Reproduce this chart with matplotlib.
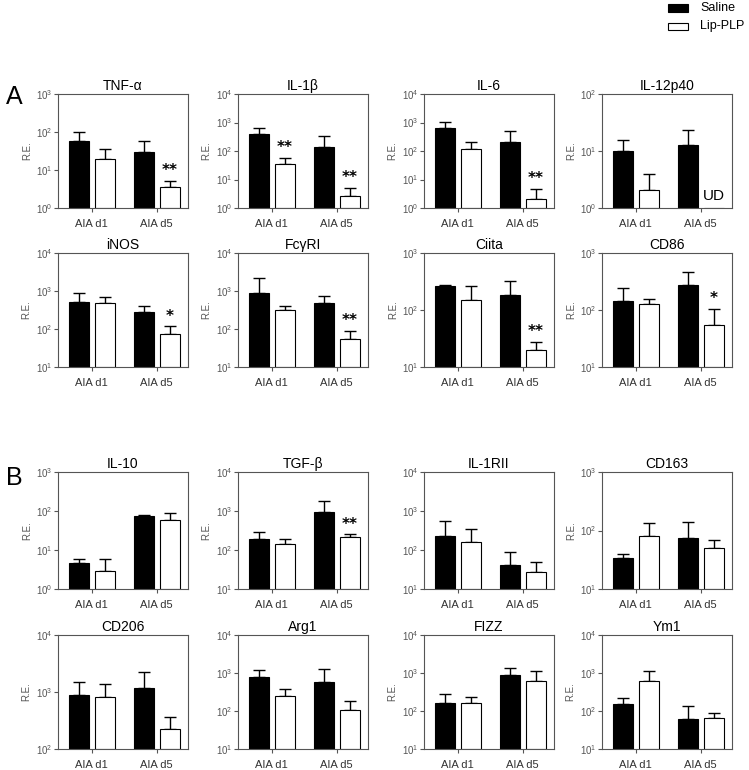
import numpy as np
import matplotlib

matplotlib.use("Agg")
import matplotlib.pyplot as plt
from matplotlib.patches import Rectangle
from matplotlib.ticker import LogLocator, LogFormatterSciNotation, NullLocator

plt.rcParams["font.family"] = ["Liberation Sans", "DejaVu Sans"]
plt.rcParams["mathtext.fontset"] = "custom"
plt.rcParams["mathtext.rm"] = "Liberation Sans"
plt.rcParams["mathtext.it"] = "Liberation Sans:italic"
plt.rcParams["mathtext.bf"] = "Liberation Sans:bold"

# panel names, A block then B block
genes = ["TNF-α", "IL-1β", "IL-6", "IL-12p40",
         "iNOS", "FcγRI", "Ciita", "CD86",
         "IL-10", "TGF-β", "IL-1RII", "CD163",
         "CD206", "Arg1", "FIZZ", "Ym1"]
groups = ["AIA d1", "AIA d5"]

# mean values (d1, d5)
saline_mean = [[58, 30], [389, 141], [618, 204], [10, 12.5],
               [513, 274], [883, 480], [264, 181], [141, 277],
               [4.6, 73], [194, 960], [227, 42], [34, 74],
               [886, 1190], [807, 590], [158, 905], [149, 63]]
saline_err = [[44, 27], [257, 190], [440, 296], [5.3, 10.5],
              [397, 136], [1307, 280], [6, 143], [102, 187],
              [1.3, 6], [96, 870], [330, 49], [6, 67],
              [594, 1060], [408, 670], [122, 445], [72, 74]]
lip_mean = [[20, 3.6], [36, 2.6], [119, 2.1], [2.1, np.nan],
            [480, 72], [307, 53], [147, 19.6], [130, 54],
            [2.9, 59], [139, 213], [160, 27], [80, 50],
            [815, 225], [250, 108], [161, 632], [632, 65]]
lip_err = [[16, 1.6], [21, 2.6], [85, 2.7], [1.9, np.nan],
           [210, 45], [103, 35], [121, 8.4], [27, 51],
           [3.0, 28], [47, 37], [190, 22], [56, 18],
           [565, 137], [120, 75], [69, 498], [498, 24]]
# log10 y range per panel
ylim_dec = [(0, 3), (0, 4), (0, 4), (0, 2),
            (1, 4), (1, 4), (1, 3), (1, 3),
            (0, 3), (1, 4), (1, 4), (1, 3),
            (2, 4), (1, 4), (1, 4), (1, 4)]
lip_stars = [["", "**"], ["**", "**"], ["", "**"], ["", ""],
             ["", "*"], ["", "**"], ["", "**"], ["", "*"],
             ["", ""], ["", "**"], ["", ""], ["", ""],
             ["", ""], ["", ""], ["", ""], ["", ""]]
show_ylabel = [True] * 10 + [False, True, True, False, True, True]

W, H = 749, 770
col_left = [58, 238, 424, 602]
col_w = 130
row_top = [94, 253, 472, 635]
row_h = [114, 114, 117, 114]

fig = plt.figure(figsize=(W / 100, H / 100), dpi=100)
spine_c = "#555555"
tick_c = "#555555"

x = np.arange(len(groups))
bw = 0.3
off = 0.2

for i, name in enumerate(genes):
    r, c = divmod(i, 4)
    ax = fig.add_axes([col_left[c] / W, 1 - (row_top[r] + row_h[r]) / H, col_w / W, row_h[r] / H])
    lo, hi = ylim_dec[i]
    base = 10.0 ** lo
    sm = np.array(saline_mean[i], dtype=float)
    se = np.array(saline_err[i], dtype=float)
    lm = np.array(lip_mean[i], dtype=float)
    le = np.array(lip_err[i], dtype=float)

    ax.errorbar(x - off, sm, yerr=[np.zeros_like(se), se], fmt="none", ecolor="black",
                elinewidth=1, capsize=4, capthick=1, zorder=1)
    ax.errorbar(x + off, lm, yerr=[np.zeros_like(le), le], fmt="none", ecolor="black",
                elinewidth=1, capsize=4, capthick=1, zorder=1)
    ax.bar(x - off, sm - base, bottom=base, width=bw, color="black", edgecolor="black", lw=0.8, zorder=2)
    ax.bar(x + off, np.nan_to_num(lm - base, nan=0), bottom=base, width=bw, color="white",
           edgecolor="black", lw=0.8, zorder=2)

    ax.set_yscale("log")
    ax.set_ylim(base, 10.0 ** hi)
    ax.set_xlim(-0.52, 1.48)
    ax.yaxis.set_major_locator(LogLocator(base=10, numticks=10))
    ax.yaxis.set_major_formatter(LogFormatterSciNotation())
    ax.yaxis.set_minor_locator(NullLocator())
    ax.set_xticks(x)
    ax.set_xticklabels(groups)
    ax.tick_params(axis="y", direction="out", length=3, width=0.8, colors=spine_c, labelsize=7,
                   labelcolor=tick_c, pad=1)
    ax.tick_params(axis="x", direction="out", length=3, width=0.8, colors=spine_c, labelsize=8,
                   labelcolor="#333333", pad=5)
    for s in ax.spines.values():
        s.set_color(spine_c)
        s.set_linewidth(0.8)
    ax.set_title(name, fontsize=10, pad=3)
    if show_ylabel[i]:
        ax.set_ylabel("R.E.", fontsize=7, color=tick_c, labelpad=3)

    for j, st in enumerate(lip_stars[i]):
        if st:
            ax.annotate(st, xy=(x[j] + off, lm[j] + le[j]), xytext=(0, 2), textcoords="offset points",
                        ha="center", va="bottom", fontsize=11, fontweight="bold",
                        family="DejaVu Sans")
    for j in range(len(groups)):
        if np.isnan(lm[j]):
            ax.text(x[j] + off, 0.04, "UD", transform=ax.get_xaxis_transform(),
                    ha="center", va="bottom", fontsize=11)

fig.text(14 / W, 1 - 97 / H, "A", fontsize=18, ha="center", va="center")
fig.text(14 / W, 1 - 478 / H, "B", fontsize=18, ha="center", va="center")

# legend in the top right corner
fig.patches.append(Rectangle((668 / W, 1 - 12 / H), 20 / W, 8 / H, transform=fig.transFigure,
                             facecolor="black", edgecolor="black", lw=0.8))
fig.patches.append(Rectangle((668 / W, 1 - 30 / H), 20 / W, 7 / H, transform=fig.transFigure,
                             facecolor="white", edgecolor="black", lw=0.8))
fig.text(700 / W, 1 - 8 / H, "Saline", fontsize=9, va="center")
fig.text(700 / W, 1 - 26 / H, "Lip-PLP", fontsize=9, va="center")

fig.savefig("out.png", dpi=100)
